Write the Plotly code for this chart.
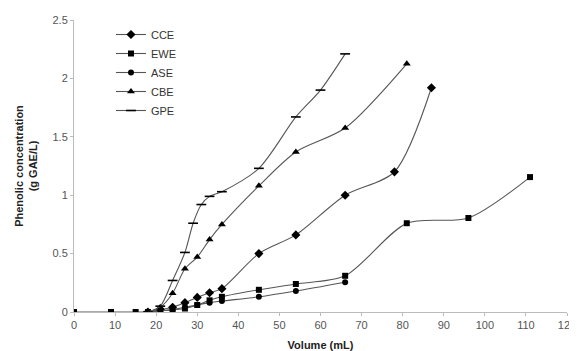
import plotly.graph_objects as go

# Data
cce_x = [18, 21, 24, 27, 30, 33, 36, 45, 54, 66, 78, 87]
cce_y = [0.0, 0.02, 0.04, 0.08, 0.125, 0.165, 0.20, 0.50, 0.66, 1.00, 1.20, 1.92]

ewe_x = [0, 9, 15, 18, 21, 24, 27, 30, 33, 36, 45, 54, 66, 81, 96, 111]
ewe_y = [0.0, 0.0, 0.0, 0.0, 0.01, 0.02, 0.03, 0.06, 0.10, 0.13, 0.19, 0.24, 0.31, 0.76, 0.805, 1.155]

ase_x = [18, 21, 24, 27, 30, 33, 36, 45, 54, 66]
ase_y = [0.0, 0.01, 0.02, 0.04, 0.06, 0.08, 0.094, 0.13, 0.18, 0.255]

cbe_x = [18, 21, 24, 27, 30, 33, 36, 45, 54, 66, 81]
cbe_y = [0.0, 0.04, 0.16, 0.37, 0.47, 0.62, 0.75, 1.08, 1.37, 1.575, 2.125]

gpe_x = [18, 21, 24, 27, 29, 31, 33, 36, 45, 54, 60, 66]
gpe_y = [0.0, 0.05, 0.27, 0.51, 0.76, 0.92, 0.99, 1.03, 1.23, 1.67, 1.90, 2.21]

series = [
    ("CCE", cce_x, cce_y, "diamond", 7),
    ("EWE", ewe_x, ewe_y, "square", 6),
    ("ASE", ase_x, ase_y, "circle", 6),
    ("CBE", cbe_x, cbe_y, "triangle-up", 7),
    ("GPE", gpe_x, gpe_y, "line-ew", 7),
]

x_ticks = list(range(0, 121, 10))
y_ticks = [0, 0.5, 1, 1.5, 2, 2.5]
y_tick_labels = ["0", "0.5", "1", "1.5", "2", "2.5"]

fig = go.Figure()
for name, xs, ys, sym, size in series:
    marker = dict(symbol=sym, size=size, color="black")
    if sym == "line-ew":
        marker["line"] = dict(color="black", width=1.6)
    fig.add_trace(go.Scatter(
        x=xs, y=ys, name=name, mode="lines+markers",
        line=dict(color="#555555", width=1.1, shape="spline", smoothing=0.8),
        marker=marker,
    ))

fig.update_layout(
    width=569, height=343,
    margin=dict(l=66, r=10, t=12, b=39),
    paper_bgcolor="white", plot_bgcolor="white",
    font=dict(family="Liberation Sans, Arial, sans-serif", size=11, color="#444"),
    showlegend=True,
    legend=dict(
        x=0.075, y=1.0, xanchor="left", yanchor="top",
        bgcolor="rgba(0,0,0,0)", font=dict(size=11, color="#333"),
        itemwidth=30, tracegroupgap=0,
    ),
    xaxis=dict(
        range=[0, 120], tickvals=x_ticks, showgrid=False, zeroline=False,
        showline=True, linecolor="#bbbbbb", linewidth=1,
        ticks="outside", ticklen=3, tickcolor="#bbbbbb",
        tickfont=dict(size=11, color="#555"),
        title=dict(text="<b>Volume (mL)</b>", font=dict(size=11, color="#222"), standoff=12),
        automargin=False,
    ),
    yaxis=dict(
        range=[0, 2.5], tickvals=y_ticks, ticktext=y_tick_labels,
        showgrid=False, zeroline=False,
        showline=True, linecolor="#bbbbbb", linewidth=1,
        ticks="outside", ticklen=3, tickcolor="#bbbbbb",
        tickfont=dict(size=11, color="#555"),
        title=dict(text="<b>Phenolic concentration<br>(g GAE/L)</b>",
                   font=dict(size=11, color="#222"), standoff=12),
        automargin=False,
    ),
)

fig.write_html("out.html")
